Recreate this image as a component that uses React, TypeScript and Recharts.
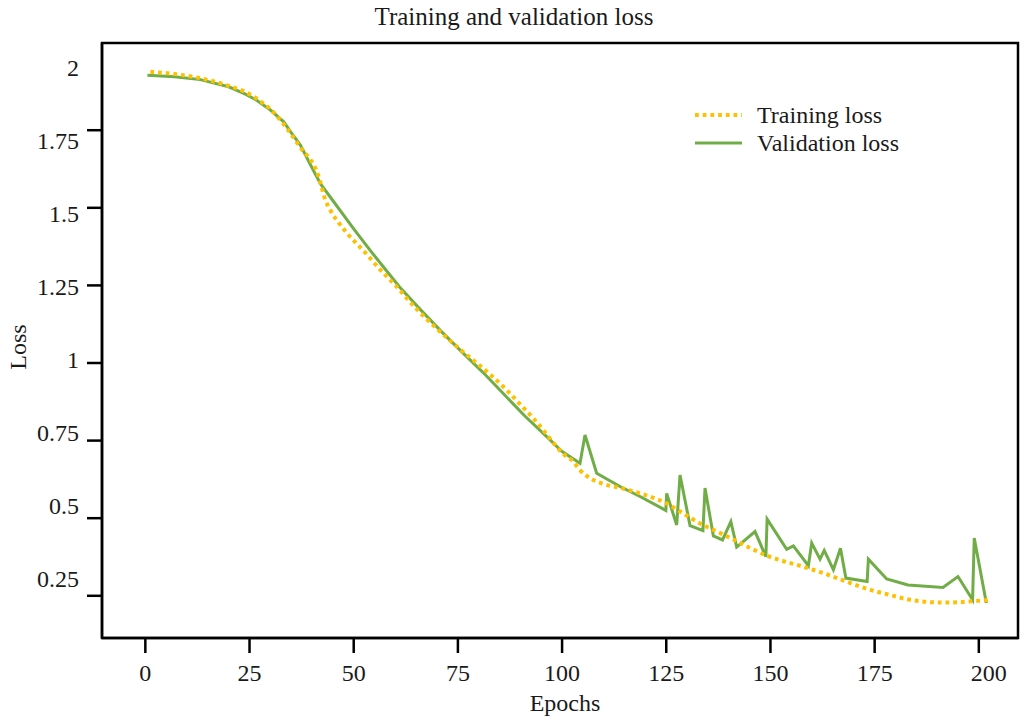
import { LineChart, Line, XAxis, YAxis, Legend, ReferenceArea } from 'recharts';

const trainEpochs = [1.2, 7, 13, 19, 25, 31, 37, 41.6, 43.2, 44.4, 46.8, 48.4, 52.2, 57.1, 60, 65, 70, 75, 79.5, 83, 86.7, 90, 93.1, 96, 98, 100.3, 102.7, 104.3, 107.5, 110, 113.9, 118.7, 125, 129, 133, 137, 141, 145, 149, 153, 157, 162, 166, 170, 174, 178, 183.5, 187, 191.4, 195, 198, 202.6];
const trainLoss = [1.938, 1.931, 1.918, 1.897, 1.866, 1.804, 1.698, 1.6, 1.525, 1.492, 1.445, 1.418, 1.364, 1.29, 1.25, 1.175, 1.11, 1.05, 1.0, 0.96, 0.913, 0.866, 0.822, 0.775, 0.741, 0.707, 0.682, 0.655, 0.623, 0.61, 0.598, 0.58, 0.548, 0.516, 0.484, 0.458, 0.432, 0.405, 0.38, 0.362, 0.347, 0.326, 0.307, 0.287, 0.269, 0.255, 0.237, 0.231, 0.228, 0.229, 0.232, 0.237];

const valEpochs = [0.5, 7, 13.2, 20, 24, 26.8, 30, 33.2, 35, 37.2, 39.5, 42, 46, 50, 54, 57.1, 61, 66, 71, 76, 81, 86, 91, 96.3, 100, 104.3, 105.5, 108.3, 113.9, 118.7, 124.9, 125.1, 127.5, 128.3, 130.7, 133.8, 134.3, 136.3, 138.5, 140.5, 141.9, 146.3, 148.9, 149.2, 153.9, 155.5, 159.1, 159.9, 161.9, 162.9, 165.1, 166.8, 168.1, 173.2, 173.5, 177.9, 183, 191.4, 195, 198.5, 198.9, 201.8];
const valLoss = [1.927, 1.922, 1.913, 1.89, 1.866, 1.846, 1.815, 1.777, 1.742, 1.702, 1.642, 1.578, 1.505, 1.432, 1.362, 1.31, 1.245, 1.172, 1.102, 1.035, 0.97, 0.9, 0.83, 0.763, 0.715, 0.677, 0.768, 0.645, 0.602, 0.57, 0.525, 0.58, 0.478, 0.639, 0.476, 0.46, 0.597, 0.443, 0.43, 0.489, 0.407, 0.457, 0.376, 0.497, 0.4, 0.411, 0.347, 0.42, 0.368, 0.396, 0.334, 0.403, 0.307, 0.296, 0.368, 0.304, 0.285, 0.277, 0.312, 0.237, 0.436, 0.227];

const xTicks = [0, 25, 50, 75, 100, 125, 150, 175, 200];
const yTicks = [0.25, 0.5, 0.75, 1, 1.25, 1.5, 1.75, 2];

const trainData = trainEpochs.map((epoch, i) => ({ epoch, loss: trainLoss[i] }));
const valData = valEpochs.map((epoch, i) => ({ epoch, loss: valLoss[i] }));

const X_DOMAIN = [-10.4, 209.4];
const Y_DOMAIN = [0.114, 2.031];

const FONT = '"Liberation Serif", "Times New Roman", serif';
const TEXT = '#1a1a1a';
const ORANGE = '#FFC000';
const GREEN = '#70AD47';
const TRAIN_DASH = '3.8 3.9';
const FS = 24;

const TICK_LEN = 15;
const X_MARGIN = 11;
const Y_MARGIN = 8;

function YTick({ x, y, payload }: any) {
  const v = payload.value;
  // the labels in the original sit a little tighter than the tick marks
  const shift = (v - 0.25) * 18.1 - 17;
  return (
    <g>
      {v !== 2 && (
        <line x1={x + Y_MARGIN} x2={x + Y_MARGIN + TICK_LEN} y1={y} y2={y} stroke="#000" strokeWidth={2.5} />
      )}
      <text x={x} y={y + shift} dy="0.355em" textAnchor="end" fontSize={FS} fontFamily={FONT} fill={TEXT}>
        {v}
      </text>
    </g>
  );
}

function XTick({ x, y, payload }: any) {
  const v = payload.value;
  const dx = v === 200 ? 10 : 0;
  return (
    <g>
      <line x1={x} x2={x} y1={y - X_MARGIN - TICK_LEN} y2={y - X_MARGIN} stroke="#000" strokeWidth={2.5} />
      <text x={x + dx} y={y} dy="0.71em" textAnchor="middle" fontSize={FS} fontFamily={FONT} fill={TEXT}>
        {v}
      </text>
    </g>
  );
}

function LossLegend({ payload }: any) {
  const items = [...(payload || [])].sort((a: any, b: any) => (a.value > b.value ? 1 : -1));
  return (
    <div>
      {items.map((entry: any) => {
        const dashed = entry.value === 'Training loss';
        return (
          <div key={entry.value} style={{ display: 'flex', alignItems: 'center', height: 28 }}>
            <svg width={52} height={28}>
              <line
                x1={5}
                x2={52}
                y1={14}
                y2={14}
                stroke={entry.color}
                strokeWidth={dashed ? 4 : 3}
                strokeDasharray={dashed ? TRAIN_DASH : undefined}
              />
            </svg>
            <span style={{ marginLeft: 15, fontFamily: FONT, fontSize: FS, color: TEXT, lineHeight: '28px', whiteSpace: 'nowrap' }}>
              {entry.value}
            </span>
          </div>
        );
      })}
    </div>
  );
}

export default function App() {
  return (
    <div style={{ position: 'absolute', left: 0, top: 0, width: 1028, height: 720, background: '#fff' }}>
      <div
        style={{
          position: 'absolute',
          top: 4,
          left: 0,
          width: 1028,
          textAlign: 'center',
          fontFamily: FONT,
          fontSize: 25,
          lineHeight: '25px',
          color: TEXT,
        }}
      >
        Training and validation loss
      </div>
      <div
        style={{
          position: 'absolute',
          left: 18,
          top: 347,
          transform: 'translate(-50%, -50%) rotate(-90deg)',
          fontFamily: FONT,
          fontSize: FS,
          lineHeight: '24px',
          color: TEXT,
          whiteSpace: 'nowrap',
        }}
      >
        Loss
      </div>
      <div
        style={{
          position: 'absolute',
          top: 691,
          left: 565,
          transform: 'translateX(-50%)',
          fontFamily: FONT,
          fontSize: FS,
          lineHeight: '24px',
          color: TEXT,
          whiteSpace: 'nowrap',
        }}
      >
        Epochs
      </div>
      <LineChart width={1028} height={720} margin={{ top: 43, right: 10, bottom: 0, left: 12 }}>
        <XAxis
          type="number"
          dataKey="epoch"
          domain={X_DOMAIN}
          allowDataOverflow
          ticks={xTicks}
          height={82}
          tickSize={TICK_LEN}
          tickMargin={X_MARGIN}
          tickLine={false}
          axisLine={{ stroke: '#000', strokeWidth: 2.5 }}
          tick={<XTick />}
        />
        <YAxis
          type="number"
          domain={Y_DOMAIN}
          allowDataOverflow
          ticks={yTicks}
          width={90}
          tickSize={TICK_LEN}
          tickMargin={Y_MARGIN}
          tickLine={false}
          axisLine={{ stroke: '#000', strokeWidth: 2.5 }}
          tick={<YTick />}
        />
        <ReferenceArea
          x1={X_DOMAIN[0]}
          x2={X_DOMAIN[1]}
          y1={Y_DOMAIN[0]}
          y2={Y_DOMAIN[1]}
          fill="none"
          stroke="#000"
          strokeWidth={2.5}
          ifOverflow="visible"
        />
        <Line
          data={valData}
          dataKey="loss"
          name="Validation loss"
          type="linear"
          stroke={GREEN}
          strokeWidth={3}
          dot={false}
          activeDot={false}
          isAnimationActive={false}
        />
        <Line
          data={trainData}
          dataKey="loss"
          name="Training loss"
          type="monotone"
          stroke={ORANGE}
          strokeWidth={4}
          strokeDasharray={TRAIN_DASH}
          dot={false}
          activeDot={false}
          isAnimationActive={false}
        />
        <Legend
          layout="vertical"
          align="center"
          verticalAlign="middle"
          content={<LossLegend />}
          wrapperStyle={{ position: 'absolute', top: 101, left: 690, width: 280, bottom: 'auto' }}
        />
      </LineChart>
    </div>
  );
}
